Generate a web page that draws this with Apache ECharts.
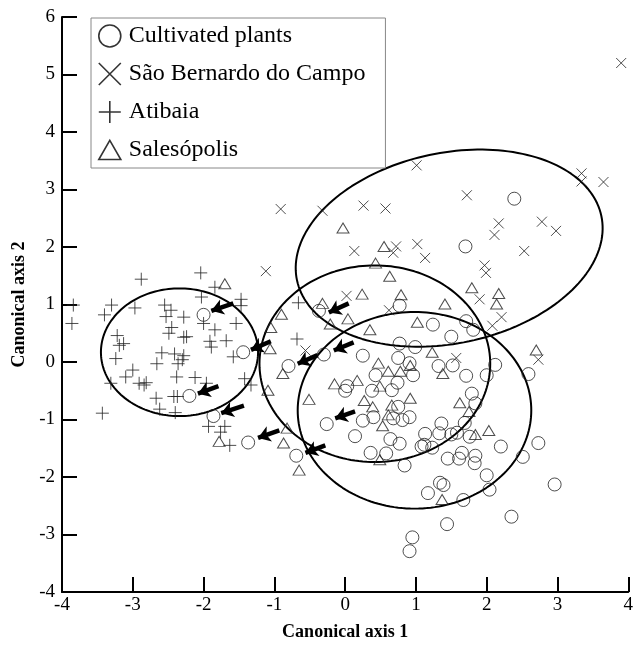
<!DOCTYPE html>
<html>
<head>
<meta charset="utf-8">
<script src="https://cdn.jsdelivr.net/npm/echarts@6/dist/echarts.min.js"></script>
<style>
html,body{margin:0;padding:0;background:#fff;}
#chart{width:636px;height:646px;}
</style>
</head>
<body>
<div id="chart"></div>
<script>
// ---- data (canonical scores) ----
var cultivated = [
[2.39,2.84],[1.70,2.01],[0.77,0.98],[1.24,0.65],[1.71,0.71],[1.81,0.56],
[-2.00,0.82],[-1.44,0.17],[-2.20,-0.59],[-1.86,-0.94],[-1.37,-1.40],[-0.69,-1.63],[-0.37,0.89],[-0.30,0.13],[-0.80,-0.07],[-0.26,-1.08],
[1.50,0.44],[0.77,0.32],[0.99,0.26],[1.32,-0.07],[1.52,-0.06],[0.25,0.11],[0.75,0.07],[0.91,-0.02],[0.96,-0.23],[0.43,-0.23],[0.03,-0.42],[0.00,-0.50],[0.38,-0.50],[0.66,-0.49],[0.74,-0.36],[0.75,-0.78],[0.40,-0.96],[0.25,-1.02],[0.68,-0.98],[0.81,-1.01],[0.91,-0.96],[0.14,-1.29],[0.64,-1.34],[0.77,-1.42],[1.13,-1.25],[1.36,-1.07],[1.33,-1.24],[1.50,-1.26],[1.08,-1.47],[1.12,-1.44],[1.23,-1.49],[0.36,-1.58],[0.58,-1.59],[0.84,-1.80],[1.34,-2.10],[1.39,-2.14],[1.17,-2.28],
[1.71,-0.24],[2.00,-0.23],[2.12,-0.05],[2.59,-0.21],[1.79,-0.55],[1.84,-0.72],[1.69,-1.06],[1.76,-1.30],[2.20,-1.47],[2.73,-1.41],[1.58,-1.23],[1.65,-1.58],[1.61,-1.68],[1.45,-1.68],[1.84,-1.63],[1.83,-1.76],[2.51,-1.65],[2.00,-1.97],[2.04,-2.22],[1.67,-2.40],[2.96,-2.13],[2.35,-2.69],[1.44,-2.82],[0.95,-3.05],[0.91,-3.29]
];
var saoBernardo = [
[3.90,5.20],[1.01,3.42],[3.34,3.28],[3.34,3.14],[3.65,3.13],[1.72,2.90],[0.26,2.72],[0.57,2.67],[-0.91,2.66],[-0.32,2.63],[2.17,2.41],[2.11,2.21],[2.78,2.44],[2.98,2.28],[2.53,1.93],[0.72,2.01],[0.68,1.90],[1.02,2.05],[1.13,1.81],[0.13,1.93],[1.97,1.68],[1.99,1.55],[-1.12,1.58],[0.62,0.90],[1.90,1.09],[2.21,0.78],[2.08,0.63],[0.02,1.15],[-0.56,0.20],[1.57,0.07],[2.73,0.04]
];
var atibaia = [
[-3.84,0.99],[-3.86,0.67],[-2.88,1.44],[-2.04,1.55],[-1.84,1.30],[-2.03,1.13],[-1.47,1.09],[-1.47,0.98],[-3.30,0.99],[-3.40,0.82],[-2.97,0.94],[-2.55,0.99],[-2.46,0.90],[-2.53,0.79],[-2.28,0.78],[-2.00,0.67],[-1.54,0.67],[-2.45,0.60],[-2.49,0.50],[-2.28,0.43],[-2.24,0.44],[-1.84,0.56],[-1.91,0.36],[-1.89,0.26],[-1.68,0.37],[-3.22,0.46],[-3.19,0.29],[-3.13,0.32],[-3.24,0.06],[-2.59,0.16],[-2.41,0.14],[-2.28,0.11],[-2.30,0.04],[-2.66,-0.03],[-2.36,-0.03],[-2.38,-0.26],[-1.58,0.09],[-1.42,-0.29],[-1.33,-0.40],[-2.12,-0.27],[-1.96,-0.37],[-3.00,-0.14],[-3.10,-0.26],[-3.31,-0.37],[-2.91,-0.37],[-2.84,-0.40],[-2.81,-0.36],[-2.67,-0.63],[-2.42,-0.60],[-2.37,-0.60],[-2.62,-0.82],[-2.40,-0.88],[-3.43,-0.89],[-1.93,-1.12],[-1.70,-1.12],[-1.76,-1.22],[-1.63,-1.45],[-0.66,1.03],[-0.68,0.40]
];
var salesopolis = [
[-1.70,1.36],[-0.03,2.33],[0.55,2.01],[0.43,1.72],[0.63,1.49],[0.24,1.18],[0.79,1.17],[1.41,1.01],[1.79,1.29],[2.17,1.19],[2.14,1.01],[1.02,0.69],[0.35,0.56],[-0.32,1.02],[-0.90,0.83],[-0.21,0.66],[0.04,0.75],[-1.05,0.60],[-1.06,0.23],[1.23,0.17],[0.47,-0.02],[1.38,-0.20],[-0.88,-0.20],[0.61,-0.16],[0.78,-0.16],[0.92,-0.06],[-0.15,-0.38],[0.17,-0.32],[0.49,-0.42],[-0.51,-0.65],[0.27,-0.67],[0.39,-0.78],[0.66,-0.75],[0.92,-0.63],[0.61,-0.92],[0.53,-1.11],[0.49,-1.70],[-0.82,-1.15],[-0.87,-1.41],[-0.65,-1.88],[-1.09,-0.49],[-1.78,-1.38],[2.70,0.21],[1.62,-0.71],[1.75,-0.86],[1.84,-1.26],[2.03,-1.19],[1.37,-2.39]
];
// arrows: [tailX, tailY, headX, headY]
var arrows = [
[-1.58,1.02,-1.89,0.89],[-1.05,0.36,-1.33,0.21],[-1.79,-0.42,-2.08,-0.55],[-1.43,-0.76,-1.75,-0.89],
[-0.93,-1.19,-1.23,-1.32],[-0.28,-1.45,-0.56,-1.58],[0.05,1.02,-0.23,0.86],[0.12,0.34,-0.16,0.20],
[-0.39,0.12,-0.67,-0.03],[0.14,-0.86,-0.14,-0.98]
];
// ellipses: centre [x,y], first semi-axis vector, second semi-axis vector (data units)
var ellipseAtibaia     = {c:[-2.34,0.17], u:[1.11,0], v:[0,1.11]};
var ellipseSaoBernardo = {c:[1.47,1.98],  u:[2.15,0.56], v:[-0.28,1.62]};
var ellipseSalesopolis = {c:[0.42,-0.03], u:[1.63,0], v:[0,1.71]};
var ellipseCultivated  = {c:[0.98,-0.84], u:[1.65,0], v:[0,1.71]};
var xTicks = [-4,-3,-2,-1,0,1,2,3,4];
var yTicks = [-4,-3,-2,-1,0,1,2,3,4,5,6];
var legendNames = ['Cultivated plants','São Bernardo do Campo','Atibaia','Salesópolis'];

function ellipsePts(e){
  var pts=[], n=180;
  for(var i=0;i<=n;i++){
    var t=2*Math.PI*i/n;
    pts.push([e.c[0]+e.u[0]*Math.cos(t)+e.v[0]*Math.sin(t), e.c[1]+e.u[1]*Math.cos(t)+e.v[1]*Math.sin(t)]);
  }
  return pts;
}

var SYM_CROSS = 'path://M0,0L10,10M10,0L0,10';
var SYM_PLUS  = 'path://M5,0L5,10M0,5L10,5';
var SYM_TRI   = 'path://M5,0L10,8.66L0,8.66Z';
var FONT = '"Liberation Serif","Times New Roman",serif';
var hollow = {color:'rgba(0,0,0,0)', borderColor:'#222', borderWidth:1};

function ell(e){
  return {type:'line', data:ellipsePts(e), showSymbol:false, symbol:'none', silent:true,
    lineStyle:{color:'#000', width:2}, z:1, animation:false};
}

var option = {
  animation:false,
  backgroundColor:'#fff',
  grid:{left:62, right:2, top:17, bottom:49},
  xAxis:{type:'value', min:-4, max:4, interval:1,
    name:'Canonical axis 1', nameLocation:'middle', nameGap:31,
    nameTextStyle:{fontFamily:FONT, fontWeight:'bold', fontSize:18, color:'#000'},
    axisLine:{onZero:false, lineStyle:{color:'#000', width:2}},
    axisTick:{inside:true, length:15, lineStyle:{color:'#000', width:2}},
    axisLabel:{fontFamily:FONT, fontSize:19, color:'#000', margin:4,
      formatter:function(v){return xTicks.indexOf(v)>=0? String(v):'';}},
    splitLine:{show:false}},
  yAxis:{type:'value', min:-4, max:6, interval:1,
    name:'Canonical axis 2', nameLocation:'middle', nameGap:28, nameRotate:90,
    nameTextStyle:{fontFamily:FONT, fontWeight:'bold', fontSize:18, color:'#000'},
    axisLine:{onZero:false, lineStyle:{color:'#000', width:2}},
    axisTick:{inside:true, length:15, lineStyle:{color:'#000', width:2}},
    axisLabel:{fontFamily:FONT, fontSize:19, color:'#000', margin:7,
      formatter:function(v){return yTicks.indexOf(v)>=0? String(v):'';}},
    splitLine:{show:false}},
  legend:{
    orient:'vertical', left:91, top:18,
    padding:[6,20,6,7], itemGap:14, itemWidth:22, itemHeight:22,
    borderColor:'#888', borderWidth:1, backgroundColor:'#fff',
    selectedMode:false,
    textStyle:{fontFamily:FONT, fontSize:24, color:'#000', lineHeight:24, padding:[0,0,0,3]},
    data:[
      {name:legendNames[0], icon:'circle', itemStyle:{color:'rgba(0,0,0,0)', borderColor:'#000', borderWidth:1.6}},
      {name:legendNames[1], icon:SYM_CROSS, itemStyle:{color:'rgba(0,0,0,0)', borderColor:'#000', borderWidth:1.6}},
      {name:legendNames[2], icon:SYM_PLUS, itemStyle:{color:'rgba(0,0,0,0)', borderColor:'#000', borderWidth:1.6}},
      {name:legendNames[3], icon:SYM_TRI, itemStyle:{color:'rgba(0,0,0,0)', borderColor:'#000', borderWidth:1.6}}
    ]
  },
  series:[
    ell(ellipseAtibaia), ell(ellipseSaoBernardo), ell(ellipseSalesopolis), ell(ellipseCultivated),
    {name:legendNames[0], type:'scatter', data:cultivated, symbol:'circle', symbolSize:13, itemStyle:hollow, z:3},
    {name:legendNames[1], type:'scatter', data:saoBernardo, symbol:SYM_CROSS, symbolSize:10, itemStyle:hollow, z:3},
    {name:legendNames[2], type:'scatter', data:atibaia, symbol:SYM_PLUS, symbolSize:13, itemStyle:hollow, z:3},
    {name:legendNames[3], type:'scatter', data:salesopolis, symbol:SYM_TRI, symbolSize:[12,10], itemStyle:hollow, z:3},
    {type:'lines', coordinateSystem:'cartesian2d', silent:true, z:4,
      symbol:['none','arrow'], symbolSize:12,
      lineStyle:{color:'#000', width:4.5, opacity:1, curveness:0},
      data:arrows.map(function(a){return {coords:[[a[0],a[1]],[a[2],a[3]]]};})}
  ]
};
var chart = echarts.init(document.getElementById('chart'), null, {renderer:'canvas'});
chart.setOption(option);
</script>
</body>
</html>
